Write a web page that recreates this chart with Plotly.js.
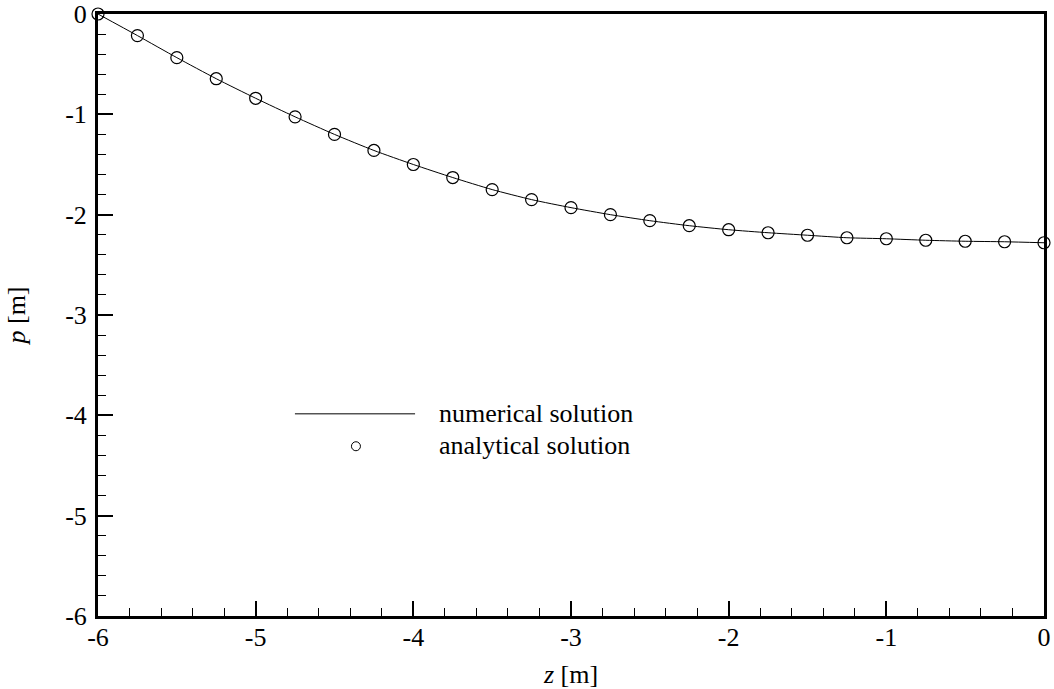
<!DOCTYPE html>
<html>
<head>
<meta charset="utf-8">
<script src="https://cdn.plot.ly/plotly-3.0.1.min.js"></script>
<style>
  html, body { margin: 0; padding: 0; background: #ffffff; }
  #chart { width: 1054px; height: 689px; }
</style>
</head>
<body>
<div id="chart"></div>
<script>
// ---- Data ----
const zValues = [-6, -5.75, -5.5, -5.25, -5, -4.75, -4.5, -4.25, -4, -3.75, -3.5, -3.25, -3,
                 -2.75, -2.5, -2.25, -2, -1.75, -1.5, -1.25, -1, -0.75, -0.5, -0.25, 0];
const pNumerical = [0, -0.215, -0.435, -0.645, -0.84, -1.025, -1.20, -1.36, -1.50, -1.63, -1.75, -1.85, -1.93,
                    -2.00, -2.06, -2.11, -2.15, -2.18, -2.205, -2.23, -2.24, -2.255, -2.265, -2.27, -2.28];
const pAnalytical = [0, -0.215, -0.435, -0.645, -0.84, -1.025, -1.20, -1.36, -1.50, -1.63, -1.75, -1.85, -1.93,
                     -2.00, -2.06, -2.11, -2.15, -2.18, -2.205, -2.23, -2.24, -2.255, -2.265, -2.27, -2.28];

const xTickVals = [-6, -5, -4, -3, -2, -1, 0];
const xTickText = ['-6', '-5', '-4', '-3', '-2', '-1', '0'];
const yTickVals = [-6, -5, -4, -3, -2, -1, 0];
const yTickText = ['-6', '-5', '-4', '-3', '-2', '-1', '0'];

const seriesNames = ['numerical solution', 'analytical solution'];

// ---- Styling ----
const FONT = '"Liberation Serif", "Times New Roman", Times, serif';
const FS = 26;

const traces = [
  {
    x: zValues, y: pNumerical, type: 'scatter', mode: 'lines',
    name: seriesNames[0], showlegend: false,
    line: { color: '#000000', width: 1, shape: 'spline', smoothing: 0.6 },
    cliponaxis: false
  },
  {
    x: zValues, y: pAnalytical, type: 'scatter', mode: 'markers',
    name: seriesNames[1], showlegend: false,
    marker: { symbol: 'circle-open', size: 12, color: '#000000', line: { width: 1.2, color: '#000000' } },
    cliponaxis: false
  }
];

const axisCommon = {
  showgrid: false, zeroline: false,
  showline: true, linecolor: '#000000', linewidth: 3, mirror: true,
  ticks: 'inside', ticklen: 15, tickwidth: 2, tickcolor: '#000000',
  tickmode: 'array',
  tickfont: { family: FONT, size: FS, color: '#000000' },
  minor: { dtick: 0.2, tick0: 0, ticks: 'inside', ticklen: 8, tickwidth: 1, tickcolor: '#000000', showgrid: false },
  fixedrange: true
};

const layout = {
  width: 1054, height: 689,
  margin: { l: 98, r: 10, t: 14, b: 73, pad: 0 },
  paper_bgcolor: '#ffffff', plot_bgcolor: '#ffffff',
  font: { family: FONT, size: FS, color: '#000000' },
  showlegend: false,
  xaxis: Object.assign({}, axisCommon, {
    range: [-6, 0],
    tickvals: xTickVals, ticktext: xTickText,
    ticklabelstandoff: -4,
    title: { text: '<i>z</i> [m]', font: { family: FONT, size: FS, color: '#000000' }, standoff: 14 }
  }),
  yaxis: Object.assign({}, axisCommon, {
    range: [-6, 0],
    tickvals: yTickVals, ticktext: yTickText,
    ticklabelstandoff: 3,
    title: { text: '<i>p</i> [m]', font: { family: FONT, size: FS, color: '#000000' }, standoff: 33 }
  }),
  shapes: [
    { type: 'line', xref: 'x', yref: 'y', x0: -4.751, x1: -3.989, y0: -3.985, y1: -3.985,
      line: { color: '#000000', width: 1 } },
    { type: 'circle', xref: 'x', yref: 'y', xsizemode: 'pixel', ysizemode: 'pixel',
      xanchor: -4.364, yanchor: -4.308, x0: -4.5, x1: 4.5, y0: -4.5, y1: 4.5,
      line: { color: '#000000', width: 1 } }
  ],
  annotations: [
    { xref: 'x', yref: 'y', x: -3.852, y: -3.98, text: seriesNames[0], showarrow: false,
      xanchor: 'left', yanchor: 'middle', font: { family: FONT, size: FS, color: '#000000' } },
    { xref: 'x', yref: 'y', x: -3.852, y: -4.30, text: seriesNames[1], showarrow: false,
      xanchor: 'left', yanchor: 'middle', font: { family: FONT, size: FS, color: '#000000' } }
  ]
};

Plotly.newPlot('chart', traces, layout, { staticPlot: true, displayModeBar: false });
</script>
</body>
</html>
